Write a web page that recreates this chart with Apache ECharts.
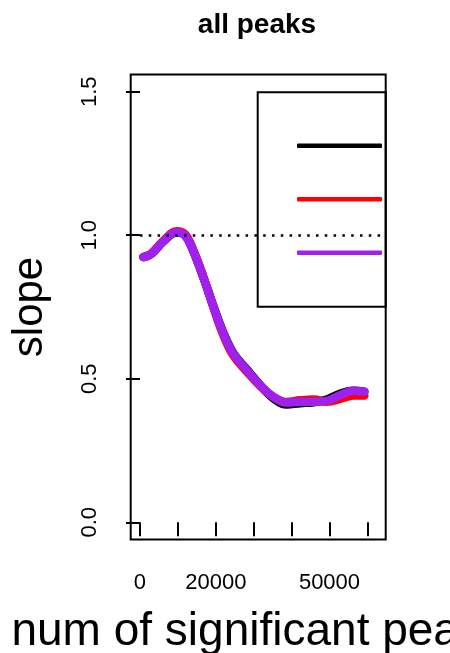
<!DOCTYPE html>
<html>
<head>
<meta charset="utf-8">
<script src="https://cdn.jsdelivr.net/npm/echarts@6/dist/echarts.min.js"></script>
<style>
  html, body { margin: 0; padding: 0; background: #fff; }
  #chart { width: 450px; height: 653px; }
</style>
</head>
<body>
<div id="chart"></div>
<script>
// 数据
var xs = [900, 3000, 6000, 9700, 11900, 14000, 16700, 19400, 22000, 24600, 28200, 31700, 35200, 38700, 42200, 45800, 49300, 52800, 56300, 59200];
var blackY = [0.924, 0.935, 0.976, 1.010, 0.999, 0.947, 0.854, 0.752, 0.660, 0.590, 0.532, 0.478, 0.432, 0.410, 0.415, 0.418, 0.428, 0.448, 0.458, 0.455];
var redY = [0.924, 0.936, 0.978, 1.014, 1.003, 0.950, 0.856, 0.748, 0.652, 0.582, 0.525, 0.475, 0.437, 0.419, 0.425, 0.428, 0.420, 0.430, 0.442, 0.442];
var purpleY = [0.924, 0.935, 0.976, 1.010, 0.999, 0.947, 0.854, 0.750, 0.658, 0.588, 0.530, 0.478, 0.437, 0.417, 0.420, 0.420, 0.423, 0.443, 0.458, 0.455];
var seriesNames = ['peaks 1', 'peaks 2', 'peaks 3'];
var seriesColors = ['#000000', '#ff0000', '#a020f0'];
var xTicks = [0, 10000, 20000, 30000, 40000, 50000, 60000];
var xLabels = [0, 20000, 50000];
var yTicks = [0, 0.5, 1.0, 1.5];
var refLine = 1.0;

var font = 'Liberation Sans, Arial, Helvetica, sans-serif';

function pairs(ys) {
    return xs.map(function (x, i) { return [x, ys[i]]; });
}

var chart = echarts.init(document.getElementById('chart'));

var allY = [blackY, redY, purpleY];
var series = allY.map(function (ys, i) {
    var s = {
        name: seriesNames[i],
        type: 'line',
        data: pairs(ys),
        smooth: 0.4,
        symbol: 'none',
        lineStyle: { color: seriesColors[i], width: 8.5, cap: 'round', join: 'round' },
        itemStyle: { color: seriesColors[i] },
        z: 2 + i
    };
    if (i === 0) {
        // 虚线 y = 1
        s.markLine = {
            silent: true,
            symbol: 'none',
            label: { show: false },
            lineStyle: { color: '#000', width: 2.5, type: [2.5, 6.3] },
            data: [[{ coord: [0, refLine] }, { coord: [64830, refLine] }]]
        };
    }
    return s;
});

chart.setOption({
    animation: false,
    backgroundColor: '#fff',
    title: {
        text: 'all peaks',
        left: 252,
        textAlign: 'center',
        top: 6,
        textStyle: { fontFamily: font, fontWeight: 'bold', fontSize: 28, color: '#000' }
    },
    grid: {
        left: 130.7,
        top: 74.5,
        width: 255,
        height: 465,
        outerBoundsMode: 'none',
        containLabel: false,
        show: true,
        borderColor: '#000',
        borderWidth: 2,
        backgroundColor: 'transparent'
    },
    legend: {
        orient: 'vertical',
        left: 297,
        top: 143.5,
        padding: 0,
        itemWidth: 85,
        itemHeight: 4.5,
        itemGap: 49,
        icon: 'roundRect',
        selectedMode: false,
        formatter: function () { return ''; },
        textStyle: { fontSize: 1 },
        data: seriesNames
    },
    graphic: [{
        type: 'rect',
        shape: { x: 257.7, y: 92.3, width: 128, height: 214.4 },
        style: { fill: 'none', stroke: '#000', lineWidth: 2 },
        z: 10
    }],
    xAxis: {
        type: 'value',
        min: -2450,
        max: 64830,
        name: 'num of significant peaks',
        nameLocation: 'middle',
        nameGap: 70,
        nameTextStyle: { fontFamily: font, fontSize: 46, color: '#000', verticalAlign: 'top' },
        axisLine: { show: false },
        splitLine: { show: false },
        axisTick: { show: true, length: 14, customValues: xTicks, lineStyle: { color: '#000', width: 2 } },
        axisLabel: {
            show: true,
            customValues: xLabels,
            margin: 32,
            fontFamily: font,
            fontSize: 22,
            color: '#000',
            formatter: function (v) { return String(v); }
        }
    },
    yAxis: {
        type: 'value',
        min: -0.06,
        max: 1.56,
        name: 'slope',
        nameLocation: 'middle',
        nameGap: 79,
        nameRotate: 90,
        nameTextStyle: { fontFamily: font, fontSize: 42, color: '#000' },
        axisLine: { show: false },
        splitLine: { show: false },
        axisTick: { show: true, length: 14, customValues: yTicks, lineStyle: { color: '#000', width: 2 } },
        axisLabel: {
            show: true,
            customValues: yTicks,
            rotate: 90,
            margin: 30,
            fontFamily: font,
            fontSize: 22,
            color: '#000',
            formatter: function (v) { return v.toFixed(1); }
        }
    },
    series: series
});
</script>
</body>
</html>
